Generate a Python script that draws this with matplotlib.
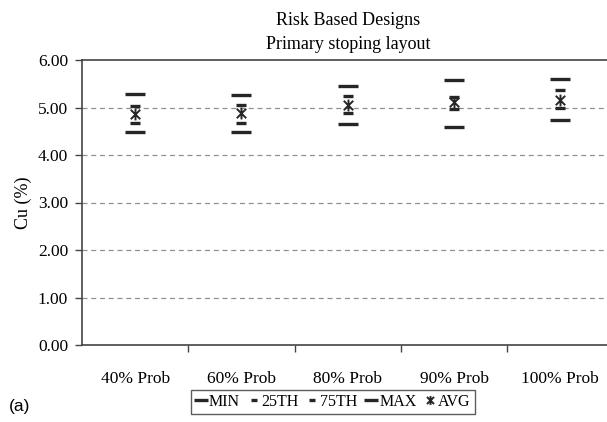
"""
Risk based designs - primary stoping layout, Cu grade spread by probability.
"""

import numpy as np
import matplotlib
matplotlib.use("Agg")
import matplotlib.pyplot as plt
from matplotlib.path import Path


CATEGORIES = ["40% Prob", "60% Prob", "80% Prob", "90% Prob", "100% Prob"]

CU_MIN = [4.48, 4.49, 4.65, 4.58, 4.74]
CU_25TH = [4.68, 4.68, 4.88, 4.96, 4.98]
CU_75TH = [5.03, 5.05, 5.24, 5.23, 5.37]
CU_MAX = [5.28, 5.27, 5.45, 5.58, 5.59]
CU_AVG = [4.86, 4.88, 5.06, 5.12, 5.16]

Y_TICKS = [0, 1, 2, 3, 4, 5, 6]

INK = "#262626"
SERIF = "Liberation Serif"

# Excel style "star" marker: an X with a vertical stroke through it
star_marker = Path(
    [(-1, -1), (1, 1), (-1, 1), (1, -1), (0, -1.25), (0, 1.25)],
    [Path.MOVETO, Path.LINETO, Path.MOVETO, Path.LINETO, Path.MOVETO, Path.LINETO],
)


def main():
    plt.rcParams["font.family"] = SERIF
    fig = plt.figure(figsize=(6.07, 4.22), dpi=100)
    # axes runs off the right edge, as in the scanned original
    ax = fig.add_axes([82 / 607, 1 - 345 / 422, 531.5 / 607, 285 / 422])

    x = np.arange(len(CATEGORIES))

    ax.plot(x, CU_MIN, ls="none", marker="_", ms=14, mew=2.4, color=INK, label="MIN")
    ax.plot(x, CU_25TH, ls="none", marker="_", ms=6.5, mew=2.4, color=INK, label="25TH")
    ax.plot(x, CU_75TH, ls="none", marker="_", ms=6.5, mew=2.4, color=INK, label="75TH")
    ax.plot(x, CU_MAX, ls="none", marker="_", ms=14, mew=2.4, color=INK, label="MAX")
    ax.plot(x, CU_AVG, ls="none", marker=star_marker, ms=8.5, mew=1.4, color=INK,
            mfc="none", label="AVG")

    ax.set_xlim(-0.5, len(CATEGORIES) - 0.5)
    ax.set_ylim(0, 6)

    # gridlines
    for v in Y_TICKS[1:-1]:
        ax.axhline(v, color="#909090", lw=0.9, ls=(0, (4, 3)), zorder=0)

    ax.set_yticks(Y_TICKS)
    ax.set_yticklabels([f"{v:.2f}" for v in Y_TICKS], fontsize=12.5)
    ax.tick_params(axis="y", direction="out", length=5, width=1, color="#444444",
                   pad=5)

    ax.set_xticks(x)
    ax.set_xticklabels(CATEGORIES, fontsize=12.5)
    ax.set_xticks(np.arange(0.5, len(CATEGORIES) - 0.5, 1), minor=True)
    ax.tick_params(axis="x", which="major", length=0, pad=19)
    ax.tick_params(axis="x", which="minor", direction="out", length=5, width=1,
                   color="#444444")

    for side in ["left", "bottom", "top"]:
        ax.spines[side].set_color("#444444")
        ax.spines[side].set_linewidth(1.2)
    ax.spines["right"].set_visible(False)

    ax.set_ylabel("Cu (%)", fontsize=13, labelpad=4)
    ax.set_title("Risk Based Designs\nPrimary stoping layout", fontsize=13,
                 linespacing=1.55, pad=8)

    fig.legend(loc="center", bbox_to_anchor=(333 / 607, 1 - 402 / 422), ncol=5,
               fontsize=11.5, frameon=True, fancybox=False, edgecolor="#333333",
               handlelength=0.7, handletextpad=0.15, columnspacing=0.5,
               borderpad=0.25, markerscale=0.75)

    fig.text(9 / 607, 1 - 407 / 422, "(a)", fontsize=12.5, family="Liberation Sans",
             va="center", ha="left")

    plt.savefig("out.png", dpi=100)
    plt.close()


if __name__ == "__main__":
    main()
